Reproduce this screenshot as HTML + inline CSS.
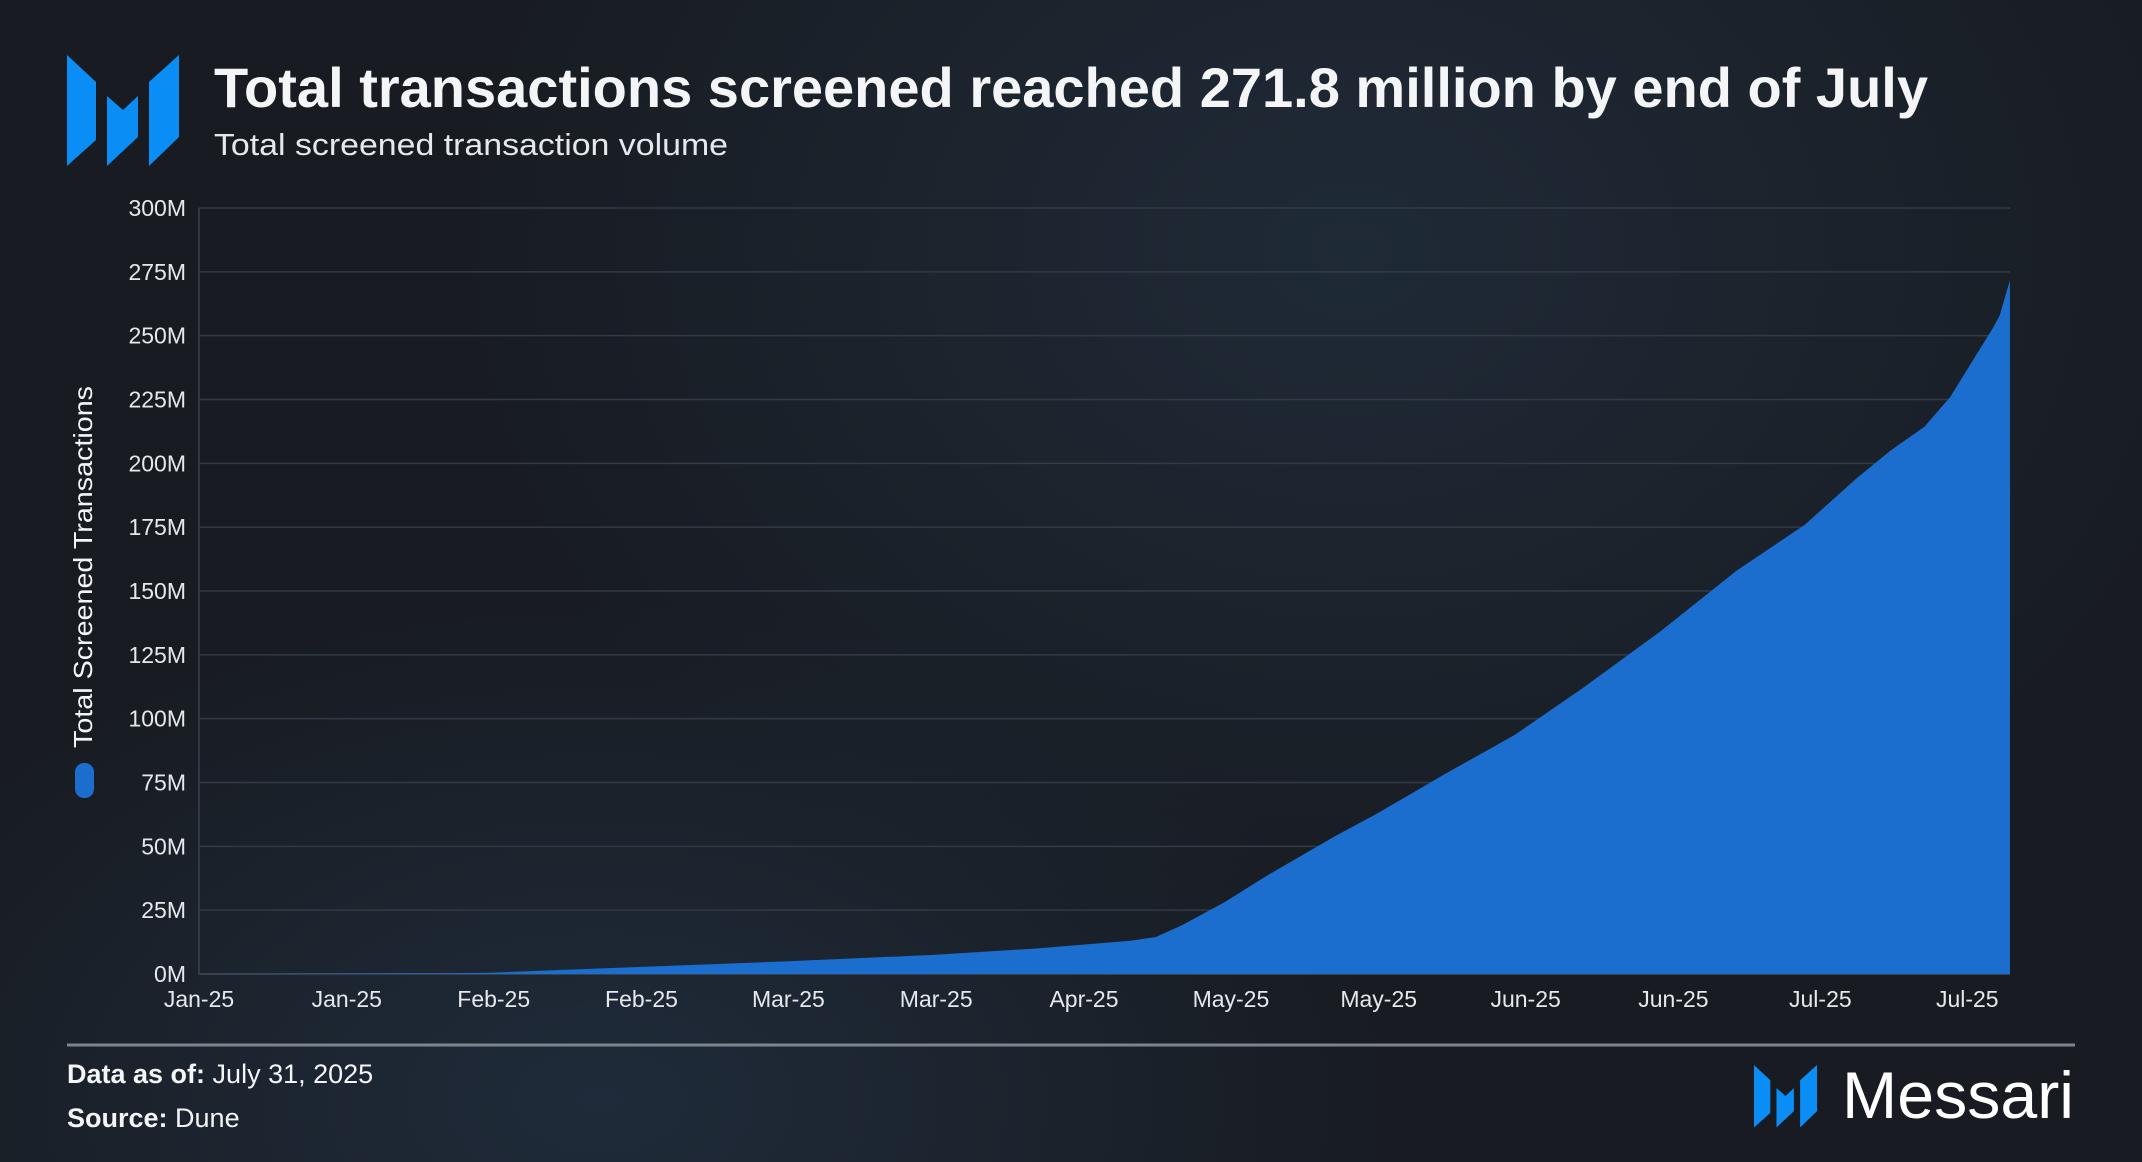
<!DOCTYPE html>
<html><head><meta charset="utf-8"><style>
html,body{margin:0;padding:0}
body{width:2142px;height:1162px;overflow:hidden;font-family:"Liberation Sans",sans-serif;
background:radial-gradient(ellipse 900px 700px at 1350px 250px,#1f2a37 0%,rgba(31,42,55,0) 100%),radial-gradient(ellipse 800px 500px at 600px 1100px,#1f2b3a 0%,rgba(31,42,55,0) 100%),#181c22;position:relative}
svg{position:absolute;left:0;top:0}
</style></head><body>
<svg width="2142" height="1162" id="chart">
<defs>
<g id="mlogo" fill="#0a8ef5">
<polygon points="67,55 96,82 96,140 67,166"/>
<polygon points="107,96 123,110 138,96 138,137 107,166"/>
<polygon points="179,55 179,137 149,166 149,82"/>
</g>
</defs>
<g><use href="#mlogo"/></g>
<text x="214" y="107" fill="#f3f5f7" font-size="56" font-weight="bold" textLength="1714" lengthAdjust="spacingAndGlyphs">Total transactions screened reached 271.8 million by end of July</text>
<text x="214" y="155" fill="#e6e9ec" font-size="31" textLength="514" lengthAdjust="spacingAndGlyphs">Total screened transaction volume</text>
<g id="grid"></g>
<g id="area"></g>
<g id="yticks"></g>
<g id="xticks"></g>
<line x1="199" y1="208" x2="199" y2="975" stroke="#3a414b" stroke-width="1.5"/>
<text transform="translate(92,567) rotate(-90)" text-anchor="middle" fill="#f3f5f7" font-size="26" textLength="362" lengthAdjust="spacingAndGlyphs">Total Screened Transactions</text>
<rect x="75" y="763" width="19" height="35" rx="9" fill="#1b6dce"/>
<line x1="67" y1="1045" x2="2075" y2="1045" stroke="#7c848d" stroke-width="3"/>
<text x="67" y="1083" fill="#f3f5f7" font-size="27"><tspan font-weight="bold">Data as of:</tspan> July 31, 2025</text>
<text x="67" y="1127" fill="#f3f5f7" font-size="27"><tspan font-weight="bold">Source:</tspan> Dune</text>
<g>
<g transform="translate(1754,1065) scale(0.5625) translate(-67,-55)"><use href="#mlogo"/></g>
<text x="1842" y="1118" fill="#ffffff" font-size="66" textLength="232" lengthAdjust="spacingAndGlyphs">Messari</text>
</g>
</svg>
<script>
const days=[0,29,34,51,69,86,98,109,112,115,120,125,133,138,146,154,162,171,180,188,194,198,202,205,210,210.8,212];
const values=[0,0.3,0.5,2.7,5,7.5,10,13,14.5,19,28,38.5,54,63,78.6,93.6,112,134,158,176,194,205,214.4,226,253,258,271.8];
const yTicks=[0,25,50,75,100,125,150,175,200,225,250,275,300];
const xTickDays=[0,17.3,34.5,51.8,69,86.3,103.6,120.8,138.1,155.3,172.6,189.8,207];
const xTickLabels=["Jan-25","Jan-25","Feb-25","Feb-25","Mar-25","Mar-25","Apr-25","May-25","May-25","Jun-25","Jun-25","Jul-25","Jul-25"];
const NS="http://www.w3.org/2000/svg";
const X0=199,X1=2010,Y0=974,Y1=208,DMAX=212,VMAX=300;
const xs=d=>X0+(X1-X0)*d/DMAX;
const ys=v=>Y0-(Y0-Y1)*v/VMAX;
const grid=document.getElementById('grid'),yt=document.getElementById('yticks'),xt=document.getElementById('xticks'),area=document.getElementById('area');
yTicks.forEach(v=>{
 const l=document.createElementNS(NS,'line');
 l.setAttribute('x1',X0);l.setAttribute('x2',X1);l.setAttribute('y1',ys(v));l.setAttribute('y2',ys(v));
 l.setAttribute('stroke',v===0?'#39414c':'#333a44');l.setAttribute('stroke-width',v===0?2:1.5);
 
 
 grid.appendChild(l);
 const t=document.createElementNS(NS,'text');
 t.setAttribute('x',186);t.setAttribute('y',ys(v)+8);t.setAttribute('text-anchor','end');
 t.setAttribute('fill','#e6e9ec');t.setAttribute('font-size','23');
 t.textContent=v+'M';
 
 
 yt.appendChild(t);
});
xTickDays.forEach((d,i)=>{
 const t=document.createElementNS(NS,'text');
 t.setAttribute('x',xs(d));t.setAttribute('y',1007);t.setAttribute('text-anchor','middle');
 t.setAttribute('fill','#e6e9ec');t.setAttribute('font-size','23');
 t.textContent=xTickLabels[i];
 
 
 xt.appendChild(t);
});
let d='M'+xs(days[0])+','+ys(0);
days.forEach((dd,i)=>{d+=' L'+xs(dd)+','+ys(values[i]);});
d+=' L'+xs(days[days.length-1])+','+ys(0)+' Z';
const p=document.createElementNS(NS,'path');
p.setAttribute('d',d);p.setAttribute('fill','#1b6dce');


area.appendChild(p);
</script>
</body></html>
